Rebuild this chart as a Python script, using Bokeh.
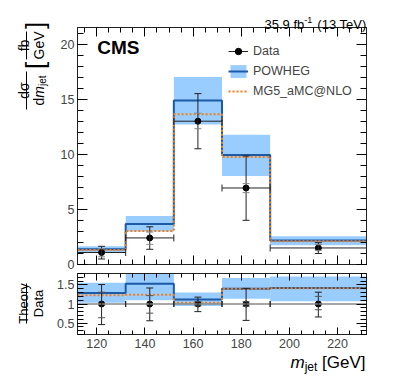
import numpy as np
from bokeh.plotting import figure
from bokeh.models import (Range1d, FixedTicker, LinearAxis, Label, Whisker, GridBox,
                          TeeHead, ColumnDataSource, Legend, LegendItem, Span)
from bokeh.core.properties import value
from bokeh.embed import file_html
from bokeh.resources import INLINE

FONT = "Liberation Sans"

# ---------------- data ----------------
edges = [112, 132, 152, 172, 192, 232]
centers = [122, 142, 162, 182, 212]
data_xsec = [1.09, 2.41, 13.0, 6.94, 1.50]
data_tot_lo = [0.50, 1.38, 10.5, 4.01, 1.0]
data_tot_hi = [1.65, 3.42, 15.5, 9.85, 1.98]
data_stat_lo = [0.70, 1.83, 12.32, 6.52, 1.28]
data_stat_hi = [1.43, 2.94, 13.73, 7.34, 1.80]
powheg = [1.38, 3.68, 14.88, 9.93, 2.17]
powheg_lo = [1.12, 3.00, 12.7, 8.03, 1.75]
powheg_hi = [1.66, 4.40, 17.0, 11.78, 2.56]
mg5 = [1.31, 3.05, 13.64, 9.75, 2.11]

ratio_powheg = [1.29, 1.53, 1.12, 1.40, 1.42]
ratio_mg5 = [1.23, 1.24, 1.03, 1.40, 1.41]
ratio_band_lo = [1.03, 1.10, 0.95, 1.14, 1.07]
ratio_band_hi = [1.56, 1.83, 1.30, 1.68, 1.72]
ratio_data = [1.0, 1.0, 1.0, 1.0, 1.0]
ratio_tot_lo = [0.46, 0.56, 0.80, 0.57, 0.66]
ratio_tot_hi = [1.51, 1.42, 1.18, 1.41, 1.31]
ratio_stat_lo = [0.64, 0.76, 0.95, 0.94, 0.85]
ratio_stat_hi = [1.31, 1.22, 1.06, 1.06, 1.20]

x_major = [120, 140, 160, 180, 200, 220]
x_minor = list(range(115, 232, 5))
y_major = [0, 5, 10, 15, 20]
y_minor = list(range(0, 22))
r_major = [0.5, 1.0, 1.5]
r_minor = [round(0.2 + 0.1 * i, 1) for i in range(17)]
r_labels = {0.5: "0.5", 1.0: "1", 1.5: "1.5"}

series_names = ["Data", "POWHEG", "MG5_aMC@NLO"]

BAND = "#99ccff"
BLUE = "#1c5aa8"
ORANGE = "#f07f1a"

W = 391
H_TOP, H_BOT = 271, 113

# ---------------- helpers ----------------
def base_fig(height, yr, mbt, mbb):
    p = figure(width=W, height=height, x_range=Range1d(112, 232), y_range=yr,
               output_backend="svg", toolbar_location=None,
               min_border_left=77, min_border_right=25, min_border_top=mbt, min_border_bottom=mbb)
    p.grid.visible = False
    p.outline_line_color = "#222222"
    p.outline_line_width = 1
    p.add_layout(LinearAxis(), "above")
    p.add_layout(LinearAxis(), "right")
    return p


def hide_labels(ax, ticks):
    ax.major_label_overrides = {t: "" for t in ticks}
    ax.major_label_text_font_size = "1px"
    ax.major_label_standoff = 0


def style(p, ymaj, ymin, xlen, ylen, xlabels=True):
    for ax in p.xaxis:
        ax.ticker = FixedTicker(ticks=x_major, minor_ticks=x_minor)
        ax.major_tick_in = xlen
        ax.major_tick_out = 0
        ax.minor_tick_in = xlen // 2 + 1
        ax.minor_tick_out = 0
        ax.axis_line_color = "#222222"
        ax.major_label_text_font = FONT
        ax.major_label_text_font_size = "12.5px"
        ax.major_label_standoff = 4
    for ax in p.yaxis:
        ax.ticker = FixedTicker(ticks=ymaj, minor_ticks=ymin)
        ax.major_tick_in = ylen
        ax.major_tick_out = 0
        ax.minor_tick_in = ylen // 2 + 1
        ax.minor_tick_out = 0
        ax.axis_line_color = "#222222"
        ax.major_label_text_font = FONT
        ax.major_label_text_font_size = "12.5px"
        ax.major_label_standoff = 3
    hide_labels(p.above[0], x_major)
    hide_labels(p.right[0], ymaj)
    if not xlabels:
        hide_labels(p.below[0], x_major)


def steps(vals):
    return list(vals) + [vals[-1]]

# ---------------- top panel ----------------
p = base_fig(H_TOP, Range1d(0, 21.5), 27, 7)
style(p, y_major, y_minor, 9, 10, xlabels=False)

band_src = ColumnDataSource(dict(l=edges[:-1], r=edges[1:], lo=powheg_lo, hi=powheg_hi))
band_r = p.quad(left="l", right="r", bottom="lo", top="hi", source=band_src,
                fill_color=BAND, line_alpha=0)
pw_r = p.step(x=edges, y=steps(powheg), mode="after", line_color=BLUE, line_width=2)
mg_r = p.step(x=edges, y=steps(mg5), mode="after", line_color=ORANGE, line_width=2,
              line_dash="2 2")

dsrc = ColumnDataSource(dict(x=centers, y=data_xsec, tlo=data_tot_lo, thi=data_tot_hi,
                             slo=data_stat_lo, shi=data_stat_hi,
                             xl=edges[:-1], xh=edges[1:]))
xbar_r = p.segment(x0="xl", x1="xh", y0="y", y1="y", source=dsrc, line_color="#222222",
                   line_width=1)
pts_r = p.scatter(x="x", y="y", source=dsrc, size=6, color="black")

p.add_layout(Whisker(base="y", lower="xl", upper="xh", source=dsrc, dimension="width",
                     line_alpha=0, level="glyph",
                     upper_head=TeeHead(size=7, line_color="#222222", line_width=1),
                     lower_head=TeeHead(size=7, line_color="#222222", line_width=1)))
p.add_layout(Whisker(base="x", lower="tlo", upper="thi", source=dsrc, dimension="height",
                     line_color="#222222", line_width=1, level="glyph",
                     upper_head=TeeHead(size=7, line_color="#222222", line_width=1),
                     lower_head=TeeHead(size=7, line_color="#222222", line_width=1)))
p.add_layout(Whisker(base="x", lower="slo", upper="shi", source=dsrc, dimension="height",
                     line_alpha=0, level="glyph",
                     upper_head=TeeHead(size=7, line_color="#888888", line_width=1),
                     lower_head=TeeHead(size=7, line_color="#888888", line_width=1)))

legend = Legend(items=[LegendItem(label=series_names[0], renderers=[xbar_r, pts_r]),
                       LegendItem(label=series_names[1], renderers=[band_r, pw_r]),
                       LegendItem(label=series_names[2], renderers=[mg_r])],
                location=(151, 165), orientation="vertical",
                label_text_font=FONT, label_text_font_size="12.5px",
                glyph_width=20, glyph_height=16, label_height=16, spacing=4,
                padding=0, margin=0, label_standoff=5,
                border_line_alpha=0, background_fill_alpha=0)
p.add_layout(legend)

p.add_layout(Label(x=97 - 77.3, y=264.3 - 58, x_units="screen", y_units="screen",
                   text="CMS", text_font=FONT, text_font_size="19px",
                   text_font_style="bold", text_color="black"))

# ---------------- ratio panel ----------------
q = base_fig(H_BOT, Range1d(0.2, 1.8), 2, 50)
style(q, r_major, r_minor, 7, 10, xlabels=True)
for ax in q.yaxis:
    ax.major_label_overrides = r_labels
hide_labels(q.right[0], r_major)

rband_src = ColumnDataSource(dict(l=edges[:-1], r=edges[1:], lo=ratio_band_lo, hi=ratio_band_hi))
q.quad(left="l", right="r", bottom="lo", top="hi", source=rband_src, fill_color=BAND, line_alpha=0)
q.step(x=edges, y=steps(ratio_powheg), mode="after", line_color=BLUE, line_width=2)
q.step(x=edges, y=steps(ratio_mg5), mode="after", line_color=ORANGE, line_width=2, line_dash="2 2")
q.add_layout(Span(location=1.0, dimension="width", line_color="#888888", line_width=1.5, level="glyph"))

rsrc = ColumnDataSource(dict(x=centers, y=ratio_data, tlo=ratio_tot_lo, thi=ratio_tot_hi,
                             slo=ratio_stat_lo, shi=ratio_stat_hi,
                             xl=edges[:-1], xh=edges[1:]))
q.scatter(x="x", y="y", source=rsrc, size=6, color="black")
q.add_layout(Whisker(base="y", lower="xl", upper="xh", source=rsrc, dimension="width",
                     line_alpha=0, level="glyph",
                     upper_head=TeeHead(size=6, line_color="#222222", line_width=1),
                     lower_head=TeeHead(size=6, line_color="#222222", line_width=1)))
q.add_layout(Whisker(base="x", lower="tlo", upper="thi", source=rsrc, dimension="height",
                     line_color="#222222", line_width=1, level="glyph",
                     upper_head=TeeHead(size=7, line_color="#222222", line_width=1),
                     lower_head=TeeHead(size=7, line_color="#222222", line_width=1)))
q.add_layout(Whisker(base="x", lower="slo", upper="shi", source=rsrc, dimension="height",
                     line_alpha=0, level="glyph",
                     upper_head=TeeHead(size=7, line_color="#555555", line_width=1),
                     lower_head=TeeHead(size=7, line_color="#555555", line_width=1)))

# ---------------- transparent text overlay (page pixel coordinates) ----------------
ov = figure(width=W, height=H_TOP + H_BOT, x_range=Range1d(0, W), y_range=Range1d(H_TOP + H_BOT, 0),
            min_border=0, toolbar_location=None, output_backend="svg",
            x_axis_location=None, y_axis_location=None)
ov.frame_align = False
ov.grid.visible = False
ov.outline_line_color = None
ov.background_fill_alpha = 0
ov.border_fill_alpha = 0


def txt(x, y, s, size, align="left", baseline="alphabetic", angle=0.0, style_="normal"):
    ov.text(x=[x], y=[y], text=[s], text_font=value(FONT), text_font_size=value(size),
            text_align=align, text_baseline=baseline, angle=angle,
            text_font_style=style_, text_color="black")


def fbar(x0, x1, y0, y1):
    ov.quad(left=[x0], right=[x1], top=[y0], bottom=[y1], fill_color="black", line_alpha=0)


A = np.pi / 2
# lumi
txt(366, 24.3, "(13 TeV)", "13px", align="right")
txt(311.8, 19.3, "-1", "9px", align="right")
txt(303.8, 24.3, "35.9 fb", "13px", align="right")

# y title top: d sigma / d m_jet [fb / GeV]
txt(23, 90, "dσ", "14px", align="center", angle=A)
txt(38.5, 105, "d", "14px", angle=A)
txt(38.5, 97.2, "m", "14px", angle=A, style_="italic")
txt(41.5, 85.5, "jet", "10px", angle=A)
fbar(25.5, 26.5, 71, 109)
txt(23, 45, "fb", "14px", align="center", angle=A)
txt(38.5, 45, "GeV", "14px", align="center", angle=A)
fbar(25.5, 26.5, 31, 59)
txt(34, 65, "[", "26px", align="center", angle=A)
txt(34, 25, "]", "26px", align="center", angle=A)

# y title ratio: Theory / Data
txt(23, 303, "Theory", "13px", align="center", angle=A)
txt(38, 303, "Data", "13px", align="center", angle=A)
fbar(25.5, 26.5, 283, 323)

# x title: m_jet [GeV]
txt(365, 362, "[GeV]", "17px", align="right")
txt(316.8, 366, "jet", "12px", align="right")
txt(304.2, 362, "m", "17px", align="right", style_="italic")

layout = GridBox(children=[(p, 0, 0), (q, 1, 0), (ov, 0, 0, 2, 1)], spacing=0)
open("out.html", "w").write(file_html(layout, INLINE))
